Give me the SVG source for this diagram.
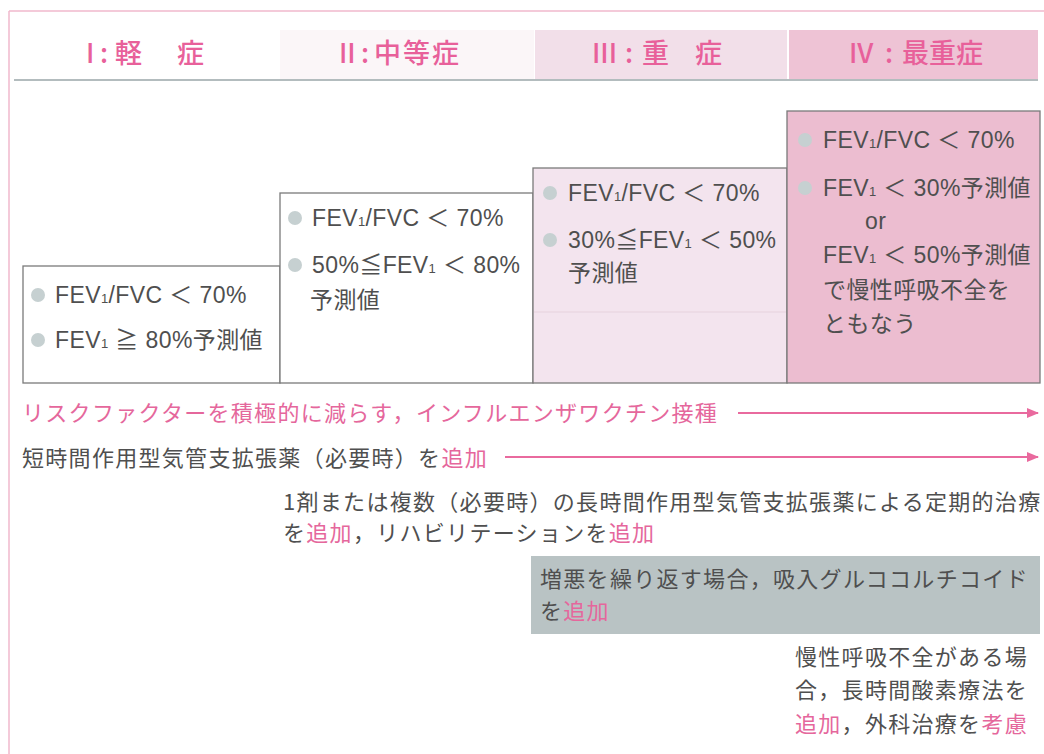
<svg xmlns="http://www.w3.org/2000/svg" width="1044" height="754" viewBox="0 0 1044 754">
<style>
.t{font-family:"Liberation Sans","Noto Sans CJK JP",sans-serif;font-size:23px;fill:#4f4f4f;letter-spacing:0.4px}
.j{font-family:"Noto Sans CJK JP","Liberation Sans",sans-serif;font-size:22px;fill:#4f4f4f;letter-spacing:1.3px}
.p{fill:#e5679c}
.hd{font-family:"Noto Sans CJK JP","Liberation Sans",sans-serif;font-size:27px;font-weight:500;fill:#e8609a}
.sub{font-size:13px}
.box{stroke:#7a7a7a;stroke-width:1.3}
.bul{fill:#c6d0d1}
.arr{stroke:#e96a9e;stroke-width:2.2;fill:none}
</style>
<defs>
<marker id="ah" viewBox="0 0 12 10" refX="11" refY="5" markerWidth="12" markerHeight="10" markerUnits="userSpaceOnUse" orient="auto">
<path d="M0,0 L12,5 L0,10 Z" fill="#e96a9e"/>
</marker>
</defs>
<rect width="1044" height="754" fill="#ffffff"/>
<g id="frame">
<line x1="9" y1="11" x2="1044" y2="11" stroke="#f0b9cd" stroke-width="1.5"/>
<line x1="9" y1="11" x2="9" y2="754" stroke="#f0b9cd" stroke-width="1.5"/>
</g>
<g id="header">
<rect x="280" y="30" width="254" height="49" fill="#fbf6f8"/>
<rect x="535" y="30" width="252" height="49" fill="#f2dfe9"/>
<rect x="789" y="30" width="249" height="49" fill="#eec3d5"/>
<line x1="14" y1="80" x2="1038" y2="80" stroke="#9aa6a9" stroke-width="1.6"/>
<text id="h1" class="hd" y="63"><tspan x="86">I</tspan><tspan x="100">:</tspan><tspan x="115">軽</tspan><tspan x="177">症</tspan></text>
<text id="h2" class="hd" y="63"><tspan x="339">II</tspan><tspan x="361">:</tspan><tspan x="374" letter-spacing="2">中等症</tspan></text>
<text id="h3" class="hd" y="63"><tspan x="592">III</tspan><tspan x="625">:</tspan><tspan x="642">重</tspan><tspan x="695">症</tspan></text>
<text id="h4" class="hd" y="63"><tspan x="849">IV</tspan><tspan x="885">:</tspan><tspan x="902">最重症</tspan></text>
</g>
<g id="stage1">
<rect class="box" x="23" y="266" width="257" height="117" fill="#ffffff"/>
<circle class="bul" cx="38" cy="295" r="7"/>
<text class="t" x="55" y="303">FEV<tspan class="sub">1</tspan>/FVC ＜ 70%</text>
<circle class="bul" cx="38" cy="340" r="7"/>
<text class="t" x="55" y="348">FEV<tspan class="sub">1</tspan> ≧ 80%予測値</text>
</g>
<g id="stage2">
<rect class="box" x="280" y="193" width="253" height="190" fill="#ffffff"/>
<circle class="bul" cx="295" cy="218" r="7"/>
<text class="t" x="312" y="226">FEV<tspan class="sub">1</tspan>/FVC ＜ 70%</text>
<circle class="bul" cx="295" cy="265" r="7"/>
<text class="t" x="312" y="273">50%≦FEV<tspan class="sub">1</tspan> ＜ 80%</text>
<text class="t" x="310" y="308">予測値</text>
</g>
<g id="stage3">
<rect class="box" x="533" y="168" width="254" height="215" fill="#f3e4ee"/>
<line x1="534" y1="312" x2="786" y2="312" stroke="#e6d2dd" stroke-width="1"/>
<circle class="bul" cx="550" cy="193" r="7"/>
<text class="t" x="568" y="201">FEV<tspan class="sub">1</tspan>/FVC ＜ 70%</text>
<circle class="bul" cx="550" cy="240" r="7"/>
<text class="t" x="568" y="248">30%≦FEV<tspan class="sub">1</tspan> ＜ 50%</text>
<text class="t" x="568" y="281">予測値</text>
</g>
<g id="stage4">
<rect class="box" x="787" y="111" width="253" height="272" fill="#ecbdd0"/>
<circle class="bul" cx="805" cy="140" r="7"/>
<text class="t" x="823" y="148">FEV<tspan class="sub">1</tspan>/FVC ＜ 70%</text>
<circle class="bul" cx="805" cy="188" r="7"/>
<text class="t" x="823" y="196">FEV<tspan class="sub">1</tspan> ＜ 30%予測値</text>
<text class="t" x="865" y="229">or</text>
<text class="t" x="823" y="263">FEV<tspan class="sub">1</tspan> ＜ 50%予測値</text>
<text class="t" x="823" y="298" letter-spacing="3">で慢性呼吸不全を</text>
<text class="t" x="823" y="332" letter-spacing="2">ともなう</text>
</g>
<g id="treat1">
<text class="j p" x="22" y="421">リスクファクターを積極的に減らす，インフルエンザワクチン接種</text>
</g>
<g id="treat2">
<text class="j" x="22" y="466">短時間作用型気管支拡張薬（必要時）を<tspan class="p">追加</tspan></text>
</g>
<g id="treat3">
<text class="j" x="283" y="510">1剤または複数（必要時）の長時間作用型気管支拡張薬による定期的治療</text>
<text class="j" x="283" y="541">を<tspan class="p">追加</tspan>，リハビリテーションを<tspan class="p">追加</tspan></text>
</g>
<g id="treat4">
<rect x="531" y="556" width="509" height="78" fill="#b9c3c4"/>
<text class="j" x="540" y="587">増悪を繰り返す場合，吸入グルココルチコイド</text>
<text class="j" x="540" y="619">を<tspan class="p">追加</tspan></text>
</g>
<g id="treat5">
<text class="j" x="795" y="665" letter-spacing="1.6">慢性呼吸不全がある場</text>
<text class="j" x="795" y="698" letter-spacing="1.6">合，長時間酸素療法を</text>
<text class="j" x="795" y="732" letter-spacing="1.6"><tspan class="p">追加</tspan>，外科治療を<tspan class="p">考慮</tspan></text>
</g>
<g id="connectors">
<line class="arr" x1="738" y1="413" x2="1038" y2="413" marker-end="url(#ah)"/>
<line class="arr" x1="505" y1="457" x2="1038" y2="457" marker-end="url(#ah)"/>
</g>
</svg>
